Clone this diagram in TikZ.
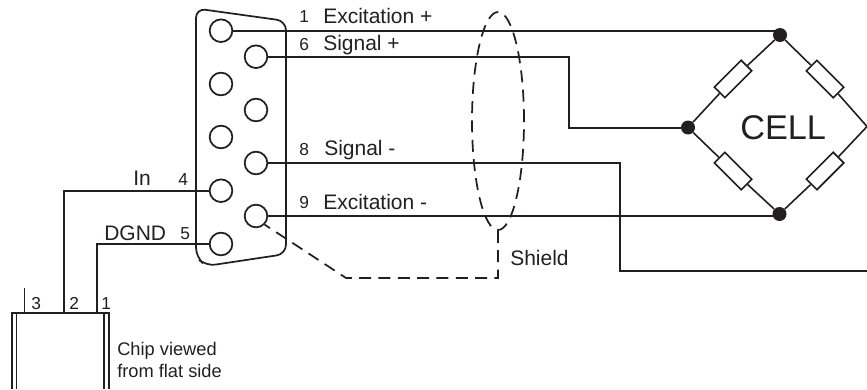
\documentclass[tikz,border=0pt]{standalone}
\usepackage{fontspec}
\setmainfont{Liberation Sans}
\usetikzlibrary{shapes.geometric}
\definecolor{ink}{HTML}{231F20}
\tikzset{
  px/.style={x=0.75pt,y=-0.75pt},
  wire/.style={draw=ink,line width=1.5pt},
  thin wire/.style={draw=ink,line width=1.2pt},
  pin/.style={circle,draw=ink,line width=1.3pt,fill=white,minimum size=17pt,inner sep=0pt},
  junction/.style={circle,fill=ink,minimum size=10.5pt,inner sep=0pt},
  res/.style={rectangle,draw=ink,line width=1.2pt,fill=white,minimum width=28.5pt,minimum height=11.25pt,inner sep=0pt},
  lab/.style={anchor=base west,inner sep=0pt,text=ink,font=\fontsize{15.75pt}{18pt}\selectfont},
  num/.style={anchor=base west,inner sep=0pt,text=ink,font=\fontsize{13pt}{15pt}\selectfont},
  note/.style={anchor=base west,inner sep=0pt,text=ink,font=\fontsize{13.7pt}{16pt}\selectfont},
  shieldline/.style={draw=ink,line width=1.3pt,dash pattern=on 9pt off 5.5pt},
}
\begin{document}
\begin{tikzpicture}[px]
\useasboundingbox (0,0) rectangle (867,389);
\clip (0,0) rectangle (867,389);
% connector shell
\draw[draw=ink,line width=1.3pt,rounded corners=7pt] (196,100) -- (196,257) -- (206,266) -- (286,254) -- (286,21) -- (196,8.5) -- cycle;
% pins
\node[pin] (pin1) at (221,30.7) {};
\node[pin] (pin2) at (221,84) {};
\node[pin] (pin3) at (221,137) {};
\node[pin] (pin4) at (221,190.7) {};
\node[pin] (pin5) at (221,244) {};
\node[pin] (pin6) at (256,56.7) {};
\node[pin] (pin7) at (256,110) {};
\node[pin] (pin8) at (256,163) {};
\node[pin] (pin9) at (256,216) {};
% bridge
\node[junction] (top) at (780,35) {};
\node[junction] (lft) at (688,127.5) {};
\node[junction] (bot) at (779.5,214) {};
\coordinate (rgt) at (867,126.5);
\node[res,rotate=45] (rtl) at (733,79) {};
\node[res,rotate=-45] (rtr) at (825,79) {};
\node[res,rotate=-45] (rbl) at (733,171) {};
\node[res,rotate=45] (rbr) at (825,171) {};
\draw[thin wire] (top) -- (rtl) -- (lft) -- (rbl) -- (bot) -- (rbr) -- (rgt) -- (rtr) -- (top);
\node[anchor=base west,inner sep=0pt,text=ink,font=\fontsize{25.7pt}{30pt}\selectfont] (cell) at (740,139) {CELL};
% shield
\node[ellipse,shieldline,minimum width=39pt,minimum height=163.5pt,inner sep=0pt] (shield) at (498,121) {};
\coordinate (s1) at (498,278);
\coordinate (s2) at (346,278);
\draw[shieldline] (shield.south) -- (s1) -- (s2) -- (pin9.-45);
\node[lab] (shieldlab) at (510,265) {Shield};
% wires
\coordinate (w6a) at (569,56.7);
\coordinate (w8a) at (620,163);
\coordinate (w8b) at (620,271);
\coordinate (w8c) at (867,271);
\draw[wire] (pin1.east) -- (pin1.east -| top);
\draw[wire] (pin6.east) -- (w6a) |- (lft);
\draw[wire] (pin8.east) -- (w8a) -- (w8b) -- (w8c);
\draw[wire] (pin9.east) -- (pin9.east -| bot);
% chip
\coordinate (ch3) at (24.5,313);
\coordinate (ch2) at (63.5,313);
\coordinate (ch1) at (96.5,313);
\coordinate (ch3t) at (24.5,288);
\coordinate (chTL) at (12,313);
\coordinate (chTR) at (109,313);
\coordinate (chBL) at (12,389);
\coordinate (chBR) at (109,389);
\coordinate (chIL) at (16.5,313);
\coordinate (chIR) at (104,313);
\coordinate (chJL) at (16.5,389);
\coordinate (chJR) at (104,389);
\draw[wire] (pin4.west) -| (ch2);
\draw[wire] (pin5.west) -| (ch1);
\draw[thin wire] (ch3t) -- (ch3);
\draw[thin wire] (chBL) -- (chTL) -- (chTR) -- (chBR);
\draw[thin wire] (chIL) -- (chJL);
\draw[thin wire] (chIR) -- (chJR);
% labels
\node[num] (n1) at (299,22.7) {1};
\node[lab] (l1) at (323,23) {Excitation +};
\node[num] (n6) at (299,50) {6};
\node[lab] (l6) at (323,50) {Signal +};
\node[num] (n8) at (299,155.7) {8};
\node[lab] (l8) at (324,155.7) {Signal -};
\node[num] (n9) at (299,208.5) {9};
\node[lab] (l9) at (323,209) {Excitation -};
\node[lab] (lin) at (133,185.7) {In};
\node[num] (n4) at (178,185) {4};
\node[lab] (ldg) at (104,240.7) {DGND};
\node[num] (n5) at (180,239) {5};
\node[num] (c3) at (31,309) {3};
\node[num] (c2) at (69,309) {2};
\node[num] (c1) at (101,309) {1};
\node[note] (cv1) at (117,355.7) {Chip viewed};
\node[note] (cv2) at (117,377) {from flat side};
\end{tikzpicture}
\end{document}
